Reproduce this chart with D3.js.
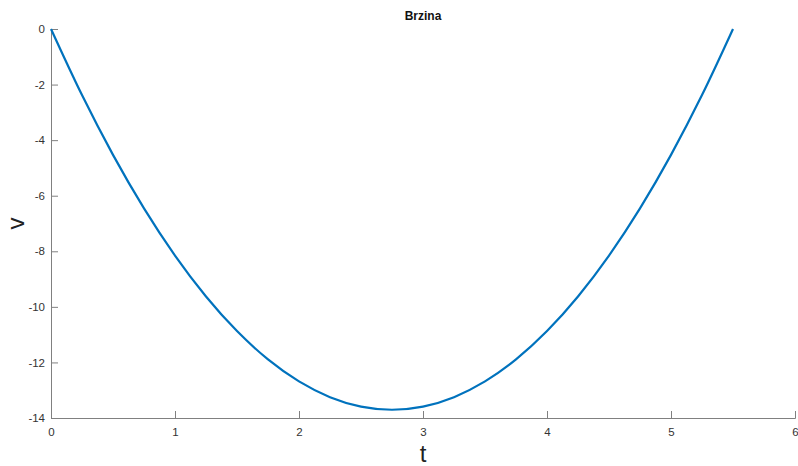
<!DOCTYPE html>
<html><head><meta charset="utf-8">
<script src="https://cdn.jsdelivr.net/npm/d3@7"></script>
<style>body{margin:0;background:#fff}svg{display:block}</style>
</head><body>
<script>
const tValues = [0,0.25,0.5,0.75,1,1.25,1.5,1.75,2,2.25,2.5,2.75,3,3.25,3.5,3.75,4,4.25,4.5,4.75,5,5.25,5.5];
const vValues = [0,-2.378,-4.530,-6.455,-8.154,-9.626,-10.872,-11.891,-12.684,-13.250,-13.590,-13.703,-13.590,-13.250,-12.684,-11.891,-10.872,-9.626,-8.154,-6.455,-4.530,-2.378,0];
const xTicks = [0,1,2,3,4,5,6];
const yTicks = [0,-2,-4,-6,-8,-10,-12,-14];
const titleText = "Brzina", xLabel = "t", yLabel = "v";

(function(){
const W = 798, H = 466;
const mLeft = 51, mRight = 795, mTop = 29, mBottom = 418;
const svg = d3.select("body").append("svg").attr("width", W).attr("height", H);
const x = d3.scaleLinear().domain([0,6]).range([mLeft,mRight]);
const y = d3.scaleLinear().domain([-14,0]).range([mBottom,mTop]);
const font = "'Liberation Sans', Arial, Helvetica, sans-serif";
const axisColor = "#808080";

const xAxis = svg.append("g").attr("transform",`translate(0,${mBottom})`)
  .call(d3.axisBottom(x).tickValues(xTicks).tickSize(-7).tickPadding(10).tickFormat(d3.format("d")));
const yAxis = svg.append("g").attr("transform",`translate(${mLeft},0)`)
  .call(d3.axisLeft(y).tickValues(yTicks).tickSize(-7).tickPadding(6).tickFormat(d => d < 0 ? "-" + Math.abs(d) : d));
[xAxis,yAxis].forEach(g => {
  g.select(".domain").attr("stroke", axisColor).attr("stroke-width",1);
  g.selectAll(".tick line").attr("stroke", axisColor);
  g.selectAll(".tick text").attr("fill","#333").attr("font-size","11.5px").attr("font-family",font);
});

const line = d3.line().x((d,i)=>x(tValues[i])).y(d=>y(d)).curve(d3.curveMonotoneX);
svg.append("path").datum(vValues).attr("d",line).attr("fill","none")
  .attr("stroke","#0072BD").attr("stroke-width",2.2);

svg.append("text").attr("x",(mLeft+mRight)/2).attr("y",20).attr("text-anchor","middle")
  .attr("font-family",font).attr("font-weight","bold").attr("font-size","12px").attr("fill","#111").text(titleText);
svg.append("text").attr("x",(mLeft+mRight)/2).attr("y",462).attr("text-anchor","middle")
  .attr("font-family",font).attr("font-size","24px").attr("fill","#222").text(xLabel);
svg.append("text").attr("transform",`translate(24,${(mTop+mBottom)/2}) rotate(-90)`).attr("text-anchor","middle")
  .attr("font-family",font).attr("font-size","24px").attr("fill","#222").text(yLabel);
})();
</script>
</body></html>
